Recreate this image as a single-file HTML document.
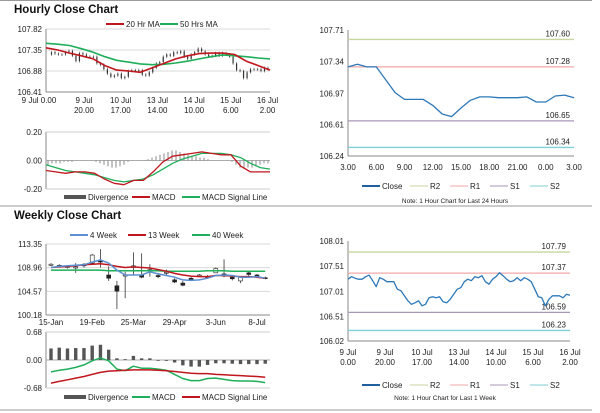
<!DOCTYPE html>
<html><head><meta charset="utf-8"><style>
html,body{margin:0;padding:0;background:#fff;}
svg{display:block;font-family:"Liberation Sans",Arial,sans-serif;}
.t{font-size:8px;fill:#222;}
.h{font-size:11.5px;font-weight:bold;fill:#111;}
.n{font-size:6.5px;fill:#222;}
</style></head><body>
<svg id="s" width="600" height="413" viewBox="0 0 600 413">
<line x1="0" y1="0.5" x2="592" y2="0.5" stroke="#999"/>
<text x="14" y="13" class="h">Hourly Close Chart</text>
<line x1="0" y1="206" x2="592" y2="206" stroke="#999"/>
<text x="14" y="219" class="h">Weekly Close Chart</text>
<line x1="0" y1="410" x2="592" y2="410" stroke="#999"/>
<g id="g"></g>
</svg>
<script>
// ---------- data ----------
const hourXLabels1=["9 Jul 0.00","9 Jul","10 Jul","13 Jul","14 Jul","15 Jul","16 Jul"];
const hourXLabels2=["","20.00","17.00","14.00","10.00","6.00","2.00"];
const hourCloseTicks=[107.82,107.35,106.88,106.41];
const weekClose=[107.25,107.30,107.27,107.25,107.25,107.30,107.33,107.22,107.10,107.28,107.25,107.20,107.20,107.20,107.05,107.02,106.92,106.82,106.75,106.78,106.82,106.72,106.75,106.88,106.90,106.88,106.90,106.80,106.78,106.85,106.95,107.05,107.08,107.20,107.25,107.22,107.30,107.28,107.32,107.20,107.15,107.25,107.30,107.38,107.32,107.25,107.20,107.22,107.28,107.22,107.28,107.25,107.20,107.05,106.90,106.88,106.72,106.85,106.92,106.92,106.92,106.88,106.95,106.93];
const ma20=[107.40,107.35,107.28,107.22,107.15,107.00,106.90,106.88,106.85,106.95,107.05,107.15,107.22,107.27,107.28,107.28,107.25,107.10,107.00,106.90];
const ma50=[107.50,107.48,107.45,107.38,107.30,107.20,107.12,107.08,107.04,107.02,107.03,107.06,107.10,107.15,107.20,107.24,107.22,107.20,107.17,107.15];
const hMacdTicks=[0.20,0.00,-0.20];
const hMacd=[-0.07,-0.08,-0.09,-0.08,-0.08,-0.09,-0.13,-0.16,-0.17,-0.14,-0.14,-0.08,-0.01,0.03,0.04,0.05,0.06,0.05,0.04,0.04,-0.04,-0.08,-0.08,-0.08];
const hSignal=[-0.03,-0.05,-0.07,-0.08,-0.09,-0.10,-0.12,-0.14,-0.15,-0.14,-0.13,-0.10,-0.06,-0.02,0.01,0.03,0.05,0.05,0.05,0.04,0.02,-0.02,-0.05,-0.06];
const hDiv=[-0.03,-0.02,-0.02,-0.02,-0.01,-0.01,-0.01,0.0,0.0,0.0,0.0,0.0,-0.01,-0.02,-0.03,-0.04,-0.05,-0.05,-0.04,-0.03,-0.01,0.0,0.0,0.0,0.0,0.01,0.02,0.03,0.04,0.05,0.06,0.07,0.07,0.06,0.05,0.04,0.03,0.03,0.02,0.02,0.01,0.0,0.0,0.0,0.0,0.0,-0.01,-0.03,-0.05,-0.06,-0.05,-0.05,-0.04,-0.03,-0.02,-0.02];
const dayClose=[107.28,107.31,107.28,107.28,107.13,106.98,106.90,106.90,106.90,106.83,106.73,106.70,106.80,106.89,106.93,106.93,106.92,106.92,106.92,106.93,106.87,106.87,106.94,106.95,106.92];
const dayTicks=[107.71,107.34,106.97,106.61,106.24];
const dayXLabels=["3.00","6.00","9.00","12.00","15.00","18.00","21.00","0.00","3.00"];
const dayLevels=[107.60,107.28,106.65,106.34];
const wkLevels=[107.79,107.37,106.59,106.23];
const wkTicks=[108.01,107.51,107.01,106.51,106.02];
const weeklyTicks=[113.35,108.96,104.57,100.18];
const weeklyXLabels=["15-Jan","19-Feb","25-Mar","29-Apr","3-Jun","8-Jul"];
const wOpen =[109.4,109.3,109.0,108.9,109.3,109.8,110.2,107.6,105.6,107.4,109.0,107.6,108.5,107.5,108.0,106.7,106.1,107.0,107.5,107.3,108.0,107.8,107.2,106.5,108.0,107.6,107.1];
const wClose=[109.6,109.4,109.2,109.1,109.6,111.3,110.0,107.0,104.6,107.6,109.3,107.2,108.6,107.3,108.1,106.3,105.7,106.9,107.6,107.1,108.8,107.4,106.9,107.2,107.7,107.4,107.0];
const wHigh =[109.8,109.6,109.4,109.8,109.8,111.5,112.4,109.2,106.5,108.2,111.8,111.6,109.6,108.0,108.6,107.0,106.5,107.2,107.8,107.6,109.0,110.5,107.6,107.4,108.3,107.8,107.3];
const wLow  =[109.3,109.0,108.8,108.0,109.0,109.6,109.0,106.5,101.3,103.3,107.5,107.0,107.3,107.0,107.6,106.1,105.5,106.6,107.3,106.9,108.3,107.2,106.6,106.1,107.3,107.2,106.8];
const ma4 =[109.0,109.2,109.3,109.4,109.5,110.0,110.4,109.8,108.5,107.6,107.6,107.6,108.2,107.8,107.5,107.2,106.7,106.6,106.7,107.0,107.5,107.6,107.5,107.2,107.2,107.3,107.0];
const ma13=[109.0,109.1,109.2,109.3,109.5,109.6,109.7,109.5,109.2,109.0,109.1,109.0,108.9,108.6,108.3,107.9,107.6,107.4,107.3,107.3,107.5,107.5,107.4,107.3,107.3,107.2,107.0];
const ma40=[108.5,108.5,108.5,108.5,108.5,108.5,108.5,108.4,108.4,108.4,108.4,108.4,108.4,108.4,108.3,108.3,108.3,108.3,108.3,108.4,108.4,108.4,108.3,108.3,108.3,108.3,108.3];
const wMacdTicks=[0.68,0.00,-0.68];
const wDiv=[0.28,0.30,0.28,0.29,0.29,0.35,0.37,0.25,0.04,0.02,0.10,0.04,0.04,0.0,-0.02,-0.06,-0.13,-0.16,-0.16,-0.12,-0.08,-0.08,-0.09,-0.10,-0.10,-0.10,-0.09];
const wMacd=[-0.29,-0.25,-0.22,-0.18,-0.12,-0.02,0.05,-0.02,-0.22,-0.26,-0.15,-0.20,-0.20,-0.22,-0.25,-0.35,-0.45,-0.50,-0.50,-0.45,-0.44,-0.47,-0.50,-0.51,-0.51,-0.52,-0.55];
const wSignal=[-0.56,-0.52,-0.48,-0.44,-0.40,-0.35,-0.30,-0.27,-0.26,-0.25,-0.24,-0.24,-0.24,-0.25,-0.26,-0.28,-0.30,-0.32,-0.33,-0.33,-0.35,-0.36,-0.37,-0.38,-0.39,-0.40,-0.42];

// ---------- helpers ----------
const NS="http://www.w3.org/2000/svg";
const G=document.getElementById('g');
function mk(tag,at,name,txt){const e=document.createElementNS(NS,tag);for(const k in at)e.setAttribute(k,at[k]);


if(txt!==undefined)e.textContent=txt;G.appendChild(e);return e;}
function lin(d0,d1,r0,r1){return v=>r0+(v-d0)/(d1-d0)*(r1-r0);}
function path(arr,xs,ys,col,w,name){let d='';arr.forEach((v,i)=>{d+=(i?'L':'M')+xs(i).toFixed(1)+','+ys(v).toFixed(1);});
return mk('path',{d:d,fill:'none',stroke:col,'stroke-width':w,'stroke-linejoin':'round'},name);}
function yAxis(ticks,ys,x0,x1,grid,name){ticks.forEach(t=>{const y=ys(t);
if(grid)mk('line',{x1:x0,y1:y,x2:x1,y2:y,stroke:'#d9d9d9','stroke-width':1},name+'-grid');
mk('text',{x:x0-4,y:y+3,'text-anchor':'end',class:'t'},name+'-tick',t.toFixed(2));});
mk('line',{x1:x0,y1:ys(ticks[0]),x2:x0,y2:ys(ticks[ticks.length-1]),stroke:'#888'},name+'-axis');}
function legend(items,y,name){items.forEach(it=>{
if(it.bar)mk('rect',{x:it.x,y:y-3,width:22,height:4,fill:'#555'},name+'-swatch');
else mk('line',{x1:it.x,y1:y-1,x2:it.x+18,y2:y-1,stroke:it.c,'stroke-width':it.w||2},name+'-swatch');
mk('text',{x:it.x+(it.bar?24:20),y:y+2,class:'t'},name+'-label',it.t);});}

// ---------- hourly close (top-left) ----------
(function(){
const x0=46,x1=270;const ys=lin(106.41,107.82,92,29);
yAxis(hourCloseTicks,ys,x0,x1,true,'hourly-y');
mk('line',{x1:x0,y1:92,x2:x1,y2:92,stroke:'#888'},'hourly-x-axis');
const n=weekClose.length;const xs=i=>x0+2+i*(x1-x0-4)/(n-1);
weekClose.forEach((v,i)=>{if(i===0)return;const p=weekClose[i-1];
mk('line',{x1:xs(i),y1:ys(Math.max(v,p)+0.03),x2:xs(i),y2:ys(Math.min(v,p)-0.03),stroke:'#555','stroke-width':0.7},'hourly-candle');
mk('rect',{x:xs(i)-0.6,y:ys(Math.max(v,p)),width:1.2,height:Math.max(1,Math.abs(ys(v)-ys(p))),fill:'#333'},'hourly-candle-body');});
const mx=i=>x0+i*(x1-x0)/(ma20.length-1);
path(ma50,mx,ys,'#1fae5a',1.6,'ma50-line');
path(ma20,mx,ys,'#c0161d',1.6,'ma20-line');
hourXLabels1.forEach((t,i)=>{const x=i===0?39:47.3+i*36.7;
mk('text',{x:x,y:103,'text-anchor':'middle',class:'t'},'hourly-x-label',t);
if(hourXLabels2[i])mk('text',{x:x,y:113,'text-anchor':'middle',class:'t'},'hourly-x-label',hourXLabels2[i]);});
legend([{x:106,t:'20 Hr MA',c:'#c0161d'},{x:160,t:'50 Hrs MA',c:'#1fae5a'}],25,'hourly-legend');
})();

// ---------- hourly MACD ----------
(function(){
const x0=46,x1=270;const ys=lin(-0.2,0.2,189,132);
yAxis(hMacdTicks,ys,x0,x1,false,'hmacd-y');
mk('line',{x1:x0,y1:132,x2:x1,y2:132,stroke:'#ccc'},'hmacd-top');
mk('line',{x1:x0,y1:189,x2:x1,y2:189,stroke:'#ccc'},'hmacd-bottom');
mk('line',{x1:x0,y1:ys(0),x2:x1,y2:ys(0),stroke:'#aaa'},'hmacd-zero');
const dx=i=>x0+2+i*(x1-x0-4)/(hDiv.length-1);
hDiv.forEach((v,i)=>{mk('line',{x1:dx(i),y1:ys(0),x2:dx(i),y2:ys(v),stroke:'#888','stroke-width':1},'hmacd-divergence-bar');});
const mx=i=>x0+i*(x1-x0)/(hMacd.length-1);
path(hSignal,mx,ys,'#1fae5a',1.3,'hmacd-signal-line');
path(hMacd,mx,ys,'#c0161d',1.3,'hmacd-line');
legend([{x:64,t:'Divergence',bar:true},{x:132,t:'MACD',c:'#c0161d'},{x:182,t:'MACD Signal Line',c:'#1fae5a'}],198,'hmacd-legend');
})();

// ---------- level chart helper ----------
function levelChart(x0,x1,yTop,yBot,ticks,levels,data,nm){
const ys=lin(ticks[ticks.length-1],ticks[0],yBot,yTop);
yAxis(ticks,ys,x0,x1,false,nm+'-y');
mk('line',{x1:x0,y1:yBot,x2:x1,y2:yBot,stroke:'#888'},nm+'-x-axis');
const cols=['#c8d6a0','#f0a8a8','#a898b8','#7fcfd6'];
levels.forEach((v,i)=>{const y=ys(v);mk('line',{x1:x0,y1:y,x2:x1,y2:y,stroke:cols[i],'stroke-width':1.3},nm+'-level-line');
mk('text',{x:x1-4,y:y-3,'text-anchor':'end',class:'t'},nm+'-level-label',v.toFixed(2));});
const xs=i=>x0+i*(x1-x0)/(data.length-1);
path(data,xs,ys,'#2d78b8',1.3,nm+'-close-line');
}
levelChart(348,574,30,156,dayTicks,dayLevels,dayClose,'day');
dayXLabels.forEach((t,i)=>{mk('text',{x:348+i*(226/8),y:170,'text-anchor':'middle',class:'t'},'day-x-label',t);});
legend([{x:362,t:'Close',c:'#1f5f9f'},{x:410,t:'R2',c:'#c8d6a0',w:1},{x:450,t:'R1',c:'#f0a8a8',w:1},{x:490,t:'S1',c:'#a898b8',w:1},{x:530,t:'S2',c:'#7fcfd6',w:1}],187,'day-legend');
mk('text',{x:455,y:203,'text-anchor':'middle',class:'n'},'day-note','Note: 1 Hour Chart for Last 24 Hours');

levelChart(348,570,241,341,wkTicks,wkLevels,weekClose,'week');
hourXLabels1.forEach((t,i)=>{const x=348+i*37;mk('text',{x:x,y:355,'text-anchor':'middle',class:'t'},'week-x-label',t==='9 Jul 0.00'?'9 Jul':t);
mk('text',{x:x,y:365,'text-anchor':'middle',class:'t'},'week-x-label',i===0?'0.00':hourXLabels2[i]);});
legend([{x:362,t:'Close',c:'#1f5f9f'},{x:410,t:'R2',c:'#c8d6a0',w:1},{x:450,t:'R1',c:'#f0a8a8',w:1},{x:490,t:'S1',c:'#a898b8',w:1},{x:530,t:'S2',c:'#7fcfd6',w:1}],386,'week-legend');
mk('text',{x:445,y:400,'text-anchor':'middle',class:'n'},'week-note','Note: 1 Hour Chart for Last 1 Week');

// ---------- weekly candles ----------
(function(){
const x0=46,x1=270;const ys=lin(100.18,113.35,315,244);
yAxis(weeklyTicks,ys,x0,x1,true,'weekly-y');
mk('line',{x1:x0,y1:315,x2:x1,y2:315,stroke:'#888'},'weekly-x-axis');
const xs=i=>51+i*8.24;
wOpen.forEach((o,i)=>{const c=wClose[i];
mk('line',{x1:xs(i),y1:ys(wHigh[i]),x2:xs(i),y2:ys(wLow[i]),stroke:'#333','stroke-width':0.8},'weekly-candle-wick');
mk('rect',{x:xs(i)-2,y:ys(Math.max(o,c)),width:4,height:Math.max(1,Math.abs(ys(o)-ys(c))),fill:c<o?'#222':'#fff',stroke:'#222','stroke-width':0.6},'weekly-candle-body');});
path(ma40,xs,ys,'#1fae5a',1.5,'ma40-line');
path(ma13,xs,ys,'#c0161d',1.5,'ma13-line');
path(ma4,xs,ys,'#5b8fd0',1.5,'ma4-line');
weeklyXLabels.forEach((t,i)=>{mk('text',{x:xs(i*5),y:325,'text-anchor':'middle',class:'t'},'weekly-x-label',t);});
legend([{x:70,t:'4 Week',c:'#5b8fd0'},{x:128,t:'13 Week',c:'#c0161d'},{x:192,t:'40 Week',c:'#1fae5a'}],236,'weekly-legend');
// MACD
const ym=lin(-0.68,0.68,388,332);
yAxis(wMacdTicks,ym,x0,x1,false,'wmacd-y');
mk('line',{x1:x0,y1:332,x2:x1,y2:332,stroke:'#ccc'},'wmacd-top');
mk('line',{x1:x0,y1:388,x2:x1,y2:388,stroke:'#ccc'},'wmacd-bottom');
mk('line',{x1:x0,y1:ym(0),x2:x1,y2:ym(0),stroke:'#aaa'},'wmacd-zero');
wDiv.forEach((v,i)=>{mk('rect',{x:xs(i)-1.7,y:Math.min(ym(0),ym(v)),width:3.4,height:Math.max(0.8,Math.abs(ym(v)-ym(0))),fill:'#555'},'wmacd-divergence-bar');});
path(wMacd,xs,ym,'#1fae5a',1.5,'wmacd-line');
path(wSignal,xs,ym,'#c0161d',1.5,'wmacd-signal-line');
legend([{x:64,t:'Divergence',bar:true},{x:132,t:'MACD',c:'#1fae5a'},{x:182,t:'MACD Signal Line',c:'#c0161d'}],398,'wmacd-legend');
})();
</script>
</body></html>
